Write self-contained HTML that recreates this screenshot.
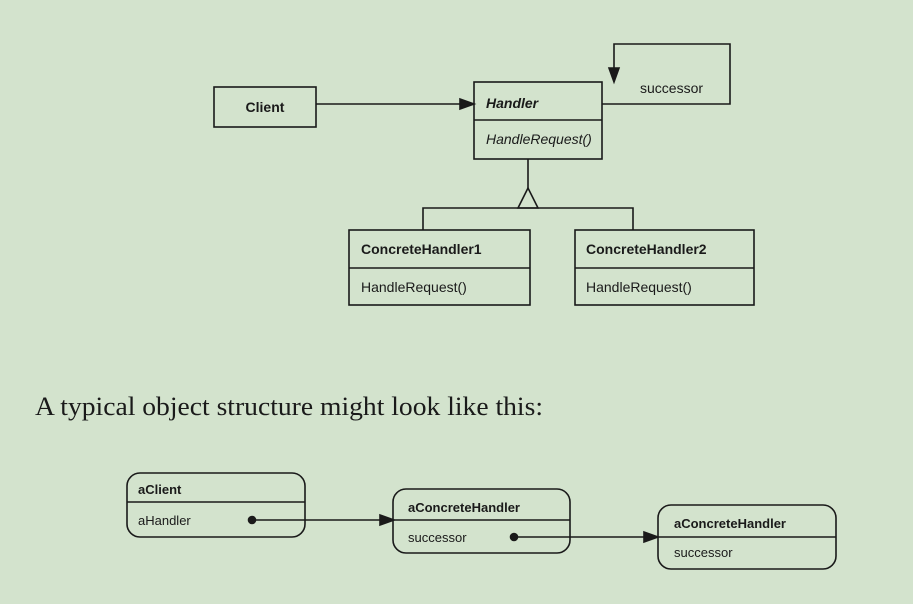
<!DOCTYPE html>
<html><head><style>
html,body{margin:0;padding:0;background:#d3e3cd;}
svg{display:block}
</style></head><body>
<svg width="913" height="604" viewBox="0 0 913 604" xmlns="http://www.w3.org/2000/svg" font-family="Liberation Sans, sans-serif" fill="none" stroke="#1a1a1a" stroke-width="1.6">
<rect width="913" height="604" fill="#d3e3cd" stroke="none"/>
<!-- Client -->
<rect x="214" y="87" width="102" height="40"/>
<text x="265" y="112" text-anchor="middle" font-size="14" font-weight="bold" fill="#1a1a1a" stroke="none">Client</text>
<line x1="316" y1="104" x2="462" y2="104"/>
<polygon points="474,104 460,99 460,109" fill="#1a1a1a"/>
<!-- Handler -->
<rect x="474" y="82" width="128" height="77"/>
<line x1="474" y1="120" x2="602" y2="120"/>
<text x="486" y="108" font-size="14" font-weight="bold" font-style="italic" fill="#1a1a1a" stroke="none">Handler</text>
<text x="486" y="144" font-size="14" font-style="italic" fill="#1a1a1a" stroke="none">HandleRequest()</text>
<polyline points="602,104 730,104 730,44 614,44 614,72"/>
<polygon points="614,82 609,68 619,68" fill="#1a1a1a"/>
<text x="640" y="93" font-size="14" fill="#1a1a1a" stroke="none">successor</text>
<!-- inheritance -->
<line x1="528" y1="159" x2="528" y2="188"/>
<polygon points="528,188 518,208 538,208"/>
<polyline points="423,230 423,208 633,208 633,230"/>
<!-- CH1 -->
<rect x="349" y="230" width="181" height="75"/>
<line x1="349" y1="268" x2="530" y2="268"/>
<text x="361" y="254" font-size="14" font-weight="bold" fill="#1a1a1a" stroke="none">ConcreteHandler1</text>
<text x="361" y="292" font-size="14" fill="#1a1a1a" stroke="none">HandleRequest()</text>
<!-- CH2 -->
<rect x="575" y="230" width="179" height="75"/>
<line x1="575" y1="268" x2="754" y2="268"/>
<text x="586" y="254" font-size="14" font-weight="bold" fill="#1a1a1a" stroke="none">ConcreteHandler2</text>
<text x="586" y="292" font-size="14" fill="#1a1a1a" stroke="none">HandleRequest()</text>
<!-- sentence -->
<text x="35" y="415" font-family="Liberation Serif, serif" font-size="26" textLength="508" lengthAdjust="spacingAndGlyphs" fill="#1a1a1a" stroke="none">A typical object structure might look like this:</text>
<!-- aClient -->
<rect x="127" y="473" width="178" height="64" rx="13"/>
<line x1="127" y1="502" x2="305" y2="502"/>
<text x="138" y="494" font-size="13" font-weight="bold" fill="#1a1a1a" stroke="none">aClient</text>
<text x="138" y="525" font-size="13" fill="#1a1a1a" stroke="none">aHandler</text>
<circle cx="252" cy="520" r="3.5" fill="#1a1a1a"/>
<line x1="252" y1="520" x2="382" y2="520"/>
<polygon points="394,520 380,515 380,525" fill="#1a1a1a"/>
<!-- aCH1 -->
<rect x="393" y="489" width="177" height="64" rx="13"/>
<line x1="393" y1="520" x2="570" y2="520"/>
<text x="408" y="512" font-size="13" font-weight="bold" fill="#1a1a1a" stroke="none">aConcreteHandler</text>
<text x="408" y="542" font-size="13" fill="#1a1a1a" stroke="none">successor</text>
<circle cx="514" cy="537" r="3.5" fill="#1a1a1a"/>
<line x1="514" y1="537" x2="646" y2="537"/>
<polygon points="658,537 644,532 644,542" fill="#1a1a1a"/>
<!-- aCH2 -->
<rect x="658" y="505" width="178" height="64" rx="13"/>
<line x1="658" y1="537" x2="836" y2="537"/>
<text x="674" y="528" font-size="13" font-weight="bold" fill="#1a1a1a" stroke="none">aConcreteHandler</text>
<text x="674" y="557" font-size="13" fill="#1a1a1a" stroke="none">successor</text>
</svg>
</body></html>
